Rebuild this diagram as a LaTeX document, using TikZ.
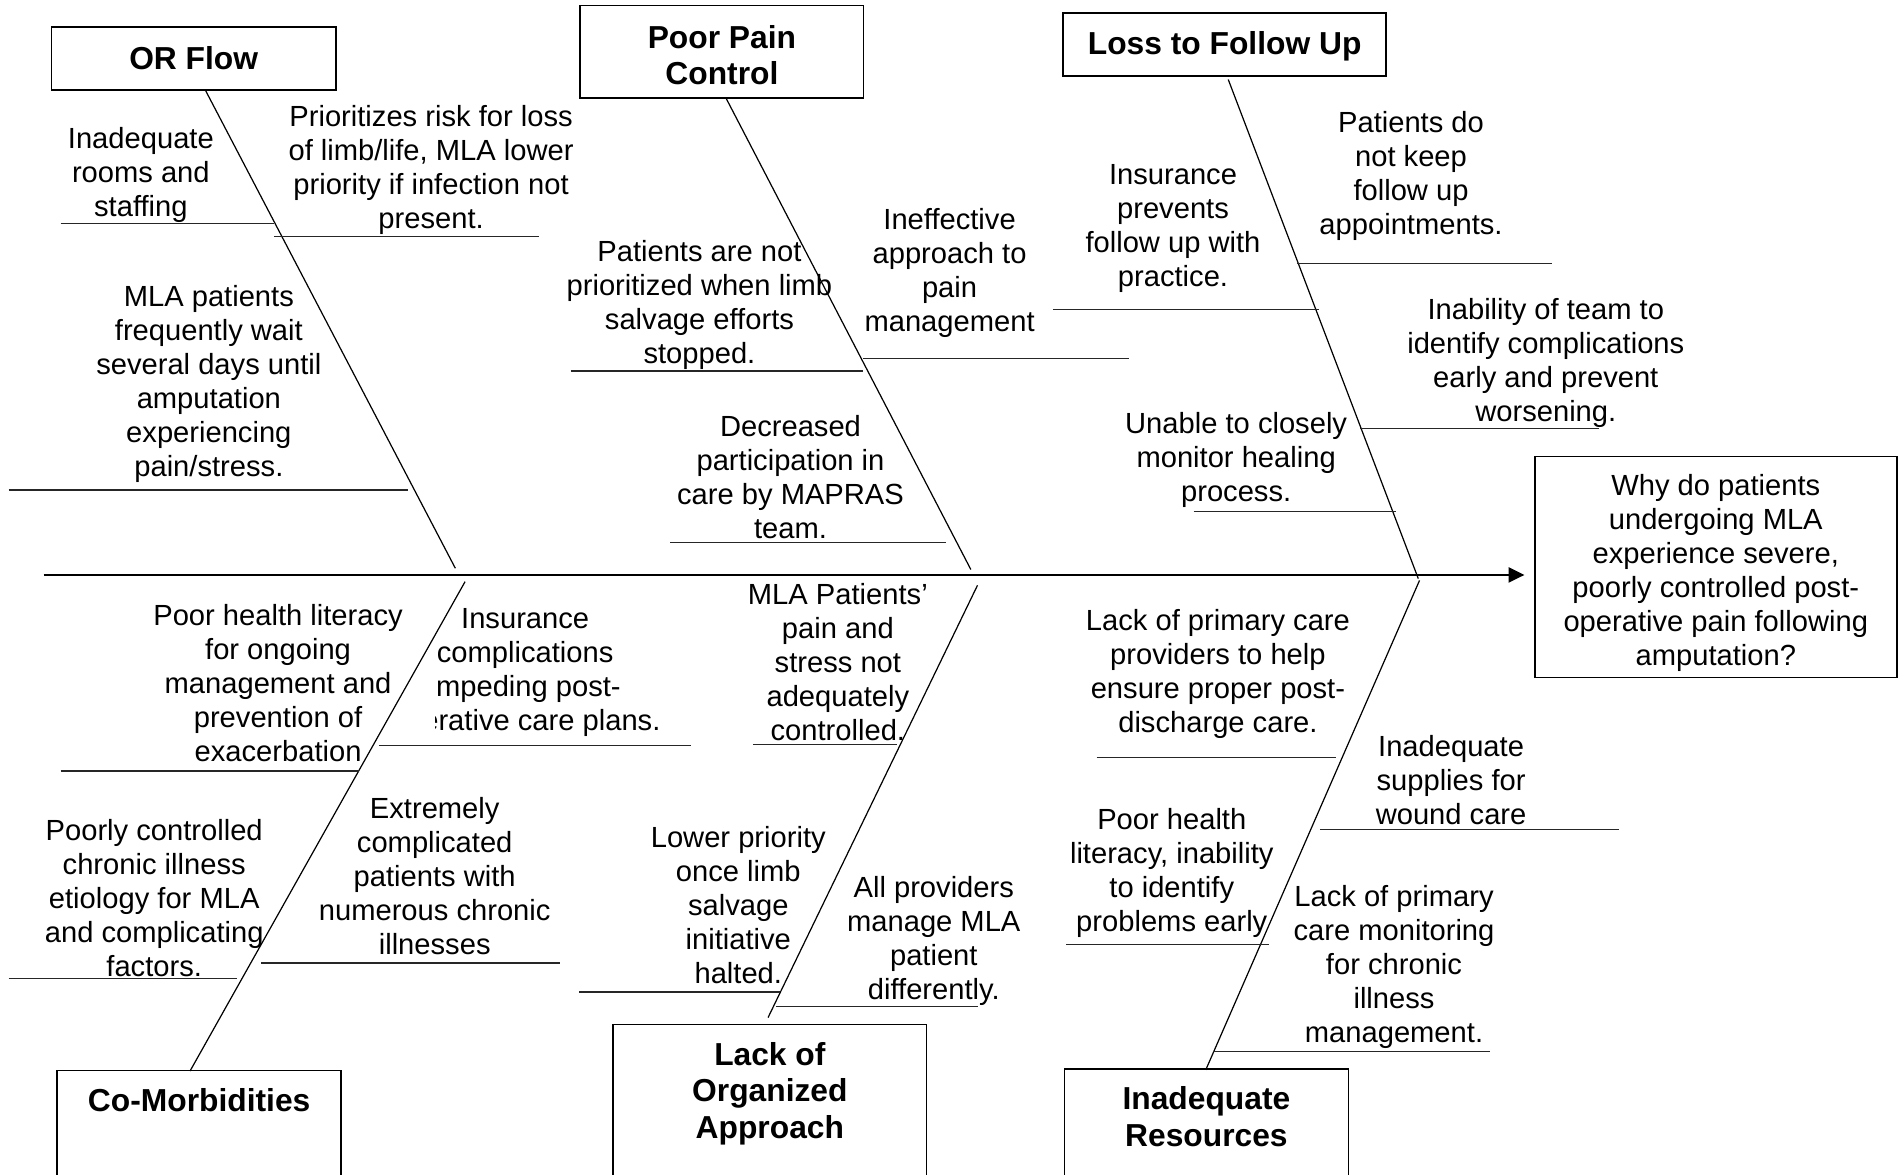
\documentclass[tikz,border=0pt]{standalone}
\usepackage{fontspec}
\setmainfont{Liberation Sans}
\usetikzlibrary{arrows.meta}

\begin{document}
\begin{tikzpicture}[x=0.6pt, y=-0.6pt,
    catbox/.style={draw, line width=0.8pt, inner sep=0pt, align=center,
                   font=\bfseries\fontsize{15.7}{18}\selectfont},
    cathead/.style={inner sep=0pt, align=center, font=\bfseries\fontsize{15.7}{18}\selectfont},
    cause/.style={inner sep=0pt, align=center, font=\fontsize{14.4}{16.8}\selectfont},
    bone/.style={draw, line width=0.6pt},
    rib/.style={line width=0.6pt, black!85},
    spine/.style={line width=0.9pt, -{Triangle[length=7.8pt,width=7.5pt]}, shorten >=4.8pt}]
  \useasboundingbox (0,0) rectangle (1568,967);

  % category boxes
  \node[catbox, minimum width=140.4pt, minimum height=31.2pt] (orflow) at (159.5,48)   {OR Flow};
  \node[catbox, minimum width=140.1pt, minimum height=45.6pt] (pain)   at (594.5,42.5) {};
  \node[catbox, minimum width=159.6pt, minimum height=31.2pt] (loss)   at (1008.5,36.5) {};
  \node[catbox, minimum width=140.4pt, minimum height=60pt, anchor=north] (comorb) at (164,881)    {};
  \node[catbox, minimum width=154.8pt, minimum height=90pt, anchor=north] (lack)   at (634,843)    {};
  \node[catbox, minimum width=140.4pt, minimum height=60pt, anchor=north] (res)    at (993.5,879.5) {};
  \node[cathead] (pain-txt)   at (594.5,45.5) {Poor Pain\\Control};
  \node[cathead] (loss-txt)   at (1008.5,38)  {Loss to Follow Up};
  \node[cathead] (comorb-txt) at (164,906)    {Co-Morbidities};
  \node[cathead] (lack-txt)   at (634,900.5)  {Lack of\\Organized\\Approach};
  \node[cathead] (res-txt)    at (993.5,919.5) {Inadequate\\Resources};

  \node[draw, line width=0.8pt, minimum width=178.8pt, minimum height=109.2pt] (effect) at (1413,467) {};
  \node[cause] (effect-txt) at (1413,471.5)
    {Why do patients\\undergoing MLA\\experience severe,\\poorly controlled post-\\operative pain following\\amputation?};

  % spine and bones
  \coordinate (spine-l)  at (36,473.5);
  \coordinate (orflow-t) at (169,74);
  \coordinate (orflow-j) at (375,468);
  \coordinate (pain-t)   at (598,81);
  \coordinate (pain-j)   at (799.5,469);
  \coordinate (loss-t)   at (1011.5,65.5);
  \coordinate (loss-j)   at (1168,476.5);
  \coordinate (comorb-j) at (383,479);
  \coordinate (comorb-b) at (156.5,882);
  \coordinate (lack-j)   at (805,482);
  \coordinate (lack-b)   at (632.5,838);
  \coordinate (res-j)    at (1169,478);
  \coordinate (res-b)    at (993,881);

  \draw[spine] (spine-l) -- (spine-l -| effect.west);
  \path (orflow-t) edge[bone] (orflow-j)
        (pain-t)   edge[bone] (pain-j)
        (loss-t)   edge[bone] (loss-j)
        (comorb-j) edge[bone] (comorb-b)
        (lack-j)   edge[bone] (lack-b)
        (res-j)    edge[bone] (res-b);

  % ribs
  \foreach \xa/\xb/\y in {50/226/184, 226/444/194.5, 7/336/403.5,
                          470/711/305.5, 711/930/295, 552/779/447,
                          867/1086/255, 1068/1278/217, 1120/1317/353, 983/1150/421,
                          50/296/635, 312/569/614, 7/195/806, 215/461/793,
                          620/739/613, 477/642/817, 639/805/829,
                          903/1100/623.5, 1087/1333/683, 878/1045/778, 999/1227/866}
    \draw[rib] (\xa,\y) -- (\xb,\y);

  % causes
  \node[cause] (or1) at (116,144)   {Inadequate\\rooms and\\staffing};
  \node[cause] (or2) at (355,140)   {Prioritizes risk for loss\\of limb/life, MLA lower\\priority if infection not\\present.};
  \node[cause] (or3) at (172,316.5) {MLA patients\\frequently wait\\several days until\\amputation\\experiencing\\pain/stress.};

  \node[cause] (pp1) at (576,251.5) {Patients are not\\prioritized when limb\\salvage efforts\\stopped.};
  \node[cause] (pp2) at (782,225)   {Ineffective\\approach to\\pain\\management};
  \node[cause] (pp3) at (651,393)   {Decreased\\participation in\\care by MAPRAS\\team.};

  \node[cause] (lf1) at (966,188)    {Insurance\\prevents\\follow up with\\practice.};
  \node[cause] (lf2) at (1162,145)   {Patients do\\not keep\\follow up\\appointments.};
  \node[cause] (lf3) at (1273,298.5) {Inability of team to\\identify complications\\early and prevent\\worsening.};
  \node[cause] (lf4) at (1018,379)   {Unable to closely\\monitor healing\\process.};

  \node[cause] (cm1) at (229,562.5) {Poor health literacy\\for ongoing\\management and\\prevention of\\exacerbation};
  \begin{scope}
    \clip (358.5,480) rectangle (600,611);
    \node[cause] (cm2) at (432.5,554) {Insurance\\complications\\impeding post-\\operative care plans.};
  \end{scope}
  \node[cause] (cm3) at (127,739.5) {Poorly controlled\\chronic illness\\etiology for MLA\\and complicating\\factors.};
  \node[cause] (cm4) at (358,721.5) {Extremely\\complicated\\patients with\\numerous chronic\\illnesses};

  \node[cause] (lo1) at (690,545.5) {MLA Patients’\\pain and\\stress not\\adequately\\controlled.};
  \node[cause] (lo2) at (608,745.5) {Lower priority\\once limb\\salvage\\initiative\\halted.};
  \node[cause] (lo3) at (769,775)   {All providers\\manage MLA\\patient\\differently.};

  \node[cause] (ir1) at (1003,555)   {Lack of primary care\\providers to help\\ensure proper post-\\discharge care.};
  \node[cause] (ir2) at (1195,642.5) {Inadequate\\supplies for\\wound care};
  \node[cause] (ir3) at (965,718.5)  {Poor health\\literacy, inability\\to identify\\problems early};
  \node[cause] (ir4) at (1148,796.5) {Lack of primary\\care monitoring\\for chronic\\illness\\management.};
\end{tikzpicture}
\end{document}
